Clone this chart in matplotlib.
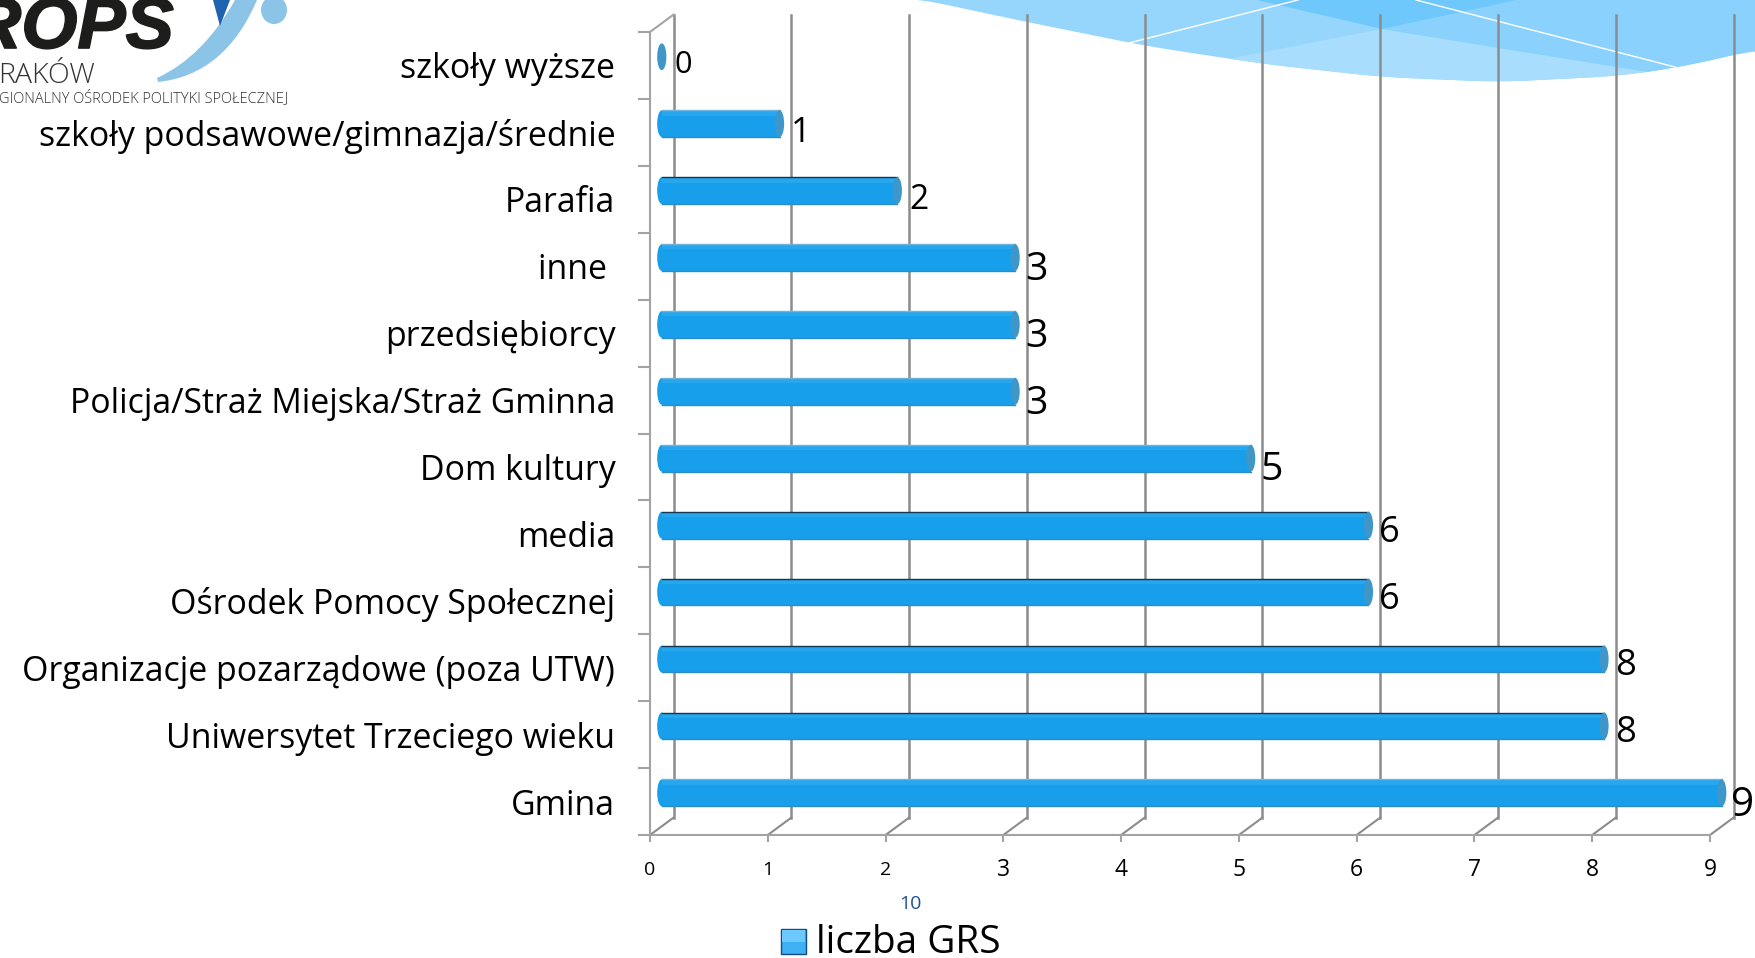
import numpy as np
import matplotlib
matplotlib.use('Agg')
import matplotlib.pyplot as plt
import matplotlib.patheffects as pe
from matplotlib.patches import Ellipse, Polygon, Rectangle, PathPatch
from matplotlib.path import Path

plt.rcParams['font.family'] = ['Open Sans', 'DejaVu Sans']

# dane od dolu wykresu do gory
categories = ['Gmina', 'Uniwersytet Trzeciego wieku', 'Organizacje pozarządowe (poza UTW)',
              'Ośrodek Pomocy Społecznej', 'media', 'Dom kultury',
              'Policja/Straż Miejska/Straż Gminna', 'przedsiębiorcy', 'inne ',
              'Parafia', 'szkoły podsawowe/gimnazja/średnie', 'szkoły wyższe']
values = [9, 8, 8, 6, 6, 5, 3, 3, 3, 2, 1, 0]
x_ticks = [0, 1, 2, 3, 4, 5, 6, 7, 8, 9]
series_name = 'liczba GRS'

W, H = 1756, 958
DX, DY = 0.2, 0.26      # glebokosc "3D" w jednostkach danych
BAR_H = 0.40

# cyfry w oryginale sa nautyczne, wiec kazda ma swoj rozmiar i przesuniecie (px)
label_style = {0: (22, 0), 1: (25, -1), 2: (24, -1), 3: (28, -4), 5: (28, -3),
               6: (26, 1), 8: (26, 2), 9: (29, -4)}
tick_style = {0: 14, 1: 14, 2: 14}

fig = plt.figure(figsize=(W / 100, H / 100), dpi=100, facecolor='white')

# tlo: fala i logo, wspolrzedne w pikselach
bg = fig.add_axes([0, 0, 1, 1], zorder=0)
bg.set_xlim(0, W)
bg.set_ylim(H, 0)
bg.axis('off')

wave_x = [914, 1027, 1146, 1264, 1382, 1500, 1618, 1675, 1735, 1756]
wave_y = [-2, 22, 46, 64, 77, 82, 76, 68, 55, 49]
xs = np.linspace(914, 1756, 120)
ys = np.interp(xs, wave_x, wave_y)
ys = np.convolve(np.r_[[ys[0]] * 4, ys, [ys[-1]] * 4], np.ones(9) / 9, mode='valid')
base = Polygon(np.r_[np.c_[xs, ys], [(1756, -3)], [(914, -3)]], fc='#97D6FC', ec='none')
bg.add_patch(base)
for pts, col in [([(1228, 59), (1382, 29), (1648, 72), (1600, 110), (1250, 110)], '#A8DDFD'),
                 ([(1382, 29), (1648, 72), (1700, 110), (1756, 110), (1756, 0), (1517, 0)], '#8AD2FD'),
                 ([(1257, 0), (1382, 29), (1517, 0)], '#6FC8FB')]:
    p = Polygon(pts, fc=col, ec='none')
    bg.add_patch(p)
    p.set_clip_path(base)
bg.plot([1129, 1298], [43, 0], color='white', lw=1)
bg.plot([1416, 1675], [0, 67], color='white', lw=1)

swoosh = Path([(158, 82), (225, 75), (257, 0), (235, 0), (203, 57), (157, 78), (158, 82)],
              [Path.MOVETO, Path.CURVE3, Path.CURVE3, Path.LINETO, Path.CURVE3, Path.CURVE3, Path.CLOSEPOLY])
bg.add_patch(PathPatch(swoosh, fc='#8CC4E8', ec='none'))
bg.add_patch(Polygon([(213, 0), (220, 26), (230, 0)], fc='#1F63B0', ec='none'))
bg.add_patch(Ellipse((274, 10), 26, 28, fc='#8CC4E8', ec='none'))
rops = bg.text(174, 48, 'ROPS', family='Liberation Sans', weight='bold', style='italic',
               fontsize=52, color='#1D1D1B', ha='right', va='baseline')
rops.set_path_effects([pe.withStroke(linewidth=1.2, foreground='#1D1D1B')])
bg.text(95, 83, 'RAKÓW', fontsize=20.5, weight='light', color='#333333', ha='right', va='baseline')
bg.text(288, 102, 'GIONALNY OŚRODEK POLITYKI SPOŁECZNEJ', fontsize=10.5, weight='light',
        color='#333333', ha='right', va='baseline')

bg.text(910, 904, '10', fontsize=14, color='#1F4E9C', ha='center', va='center')
bg.add_patch(Rectangle((781, 929), 25, 25, fc='#3FB0F3', ec='#0F4F80', lw=1))
bg.add_patch(Rectangle((782, 930), 23, 12, fc='#6CC8FF', ec='none'))
bg.text(816, 953, series_name, fontsize=27.9, color='black', ha='left', va='baseline')

# wykres
ax = fig.add_axes([650 / W, (H - 835) / H, 1060 / W, 803 / H], zorder=1)
ax.patch.set_alpha(0)
y = np.arange(len(categories))
ax.set_xlim(0, 9)
ax.set_ylim(-0.5, 11.5)

for s in ['top', 'right']:
    ax.spines[s].set_visible(False)
for s in ['left', 'bottom']:
    ax.spines[s].set_color('#A3A3A3')
    ax.spines[s].set_linewidth(1.5)

# tylna sciana
for v in x_ticks:
    ax.plot([v + DX, v + DX], [-0.5 + DY, 11.5 + DY], color='#8C8C8C', lw=1.8,
            clip_on=False, zorder=1)
    ax.plot([v, v + DX], [-0.5, -0.5 + DY], color='#8C8C8C', lw=1.5, clip_on=False, zorder=1)
ax.plot([0, DX], [11.5, 11.5 + DY], color='#A3A3A3', lw=1.5, clip_on=False, zorder=1)

# slupki-walce
for yi, v in zip(y, values):
    yc = yi + DY / 2
    x0 = DX / 2
    cap_w = 0.078
    if v > 0:
        ax.add_patch(Ellipse((x0, yc), cap_w, BAR_H, fc='#189FEC', ec='none', zorder=2, clip_on=False))
        ax.barh(yc, v, left=x0, height=BAR_H, color='#189FEC', zorder=2, clip_on=False)
        ax.barh(yc + BAR_H * 0.40, v, left=x0, height=BAR_H * 0.20, color='#28A6EE', zorder=2, clip_on=False)
        edge = '#12384F' if v in (2, 6, 8) else '#6FB4DA'
        ax.plot([x0, x0 + v], [yc + BAR_H / 2] * 2, color=edge, lw=1, zorder=3, clip_on=False)
        ax.plot([x0, x0 + v], [yc - BAR_H / 2] * 2, color='#2B8CC8', lw=1, zorder=3, clip_on=False)
    ax.add_patch(Ellipse((x0 + v, yc), cap_w, BAR_H, fc='#3F96C8', ec='none', zorder=4, clip_on=False))
    size, dy = label_style[v]
    ax.annotate(str(v), (v, yi), xytext=(33, dy), textcoords='offset pixels',
                fontsize=size / 0.714 * 0.72, color='black', ha='center', va='center',
                zorder=5, annotation_clip=False)

ax.set_yticks(y, labels=categories)
ax.set_yticks(np.arange(-0.5, 12), minor=True)
ax.tick_params(axis='y', which='major', length=0, pad=25, labelsize=24.4)
ax.tick_params(axis='y', which='minor', length=9, width=1.5, color='#A3A3A3')

ax.set_xticks(x_ticks, labels=[str(v) for v in x_ticks])
ax.tick_params(axis='x', length=5, width=1.5, color='#A3A3A3', pad=20.5)
for v, lab in zip(x_ticks, ax.get_xticklabels()):
    lab.set_fontsize(tick_style.get(v, 16.5))
    lab.set_verticalalignment('center')

fig.savefig('out.png', dpi=100)
